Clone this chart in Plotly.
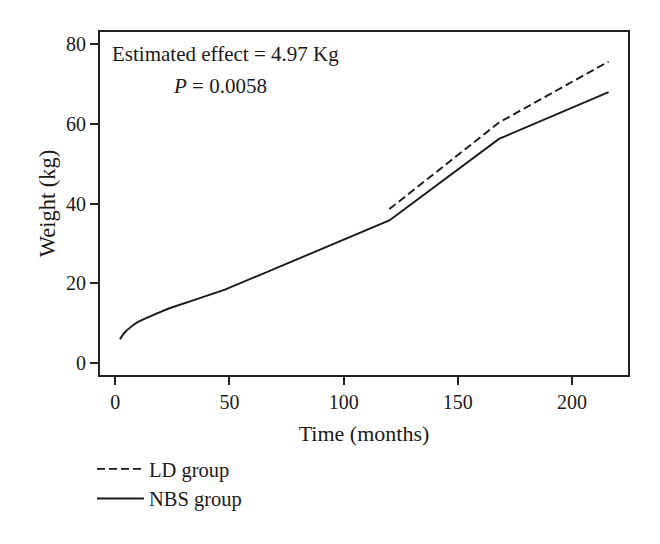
import plotly.graph_objects as go

# Data
nbs_months = [2, 3, 4, 5, 6, 8, 10, 12, 18, 24, 36, 48, 120, 168, 216]
nbs_weight = [6.0, 6.9, 7.6, 8.2, 8.7, 9.6, 10.3, 10.9, 12.4, 13.8, 16.1, 18.4, 35.75, 56.2, 67.9]
ld_months = [120, 168, 216]
ld_weight = [38.6, 60.3, 75.6]

x_ticks = [0, 50, 100, 150, 200]
y_ticks = [0, 20, 40, 60, 80]

FONT = "Liberation Serif"
INK = "#1a1a1a"

fig = go.Figure()
fig.add_trace(go.Scatter(x=ld_months, y=ld_weight, mode="lines", name="LD group",
                         line=dict(color=INK, width=1.9, dash="8px,4px")))
fig.add_trace(go.Scatter(x=nbs_months, y=nbs_weight, mode="lines", name="NBS group",
                         line=dict(color=INK, width=1.9)))

axis_common = dict(showgrid=False, zeroline=False, showline=True, mirror=True,
                   linecolor="#222", linewidth=2, ticks="outside", ticklen=8,
                   tickwidth=1.5, tickcolor="#222",
                   tickfont=dict(family=FONT, size=20, color=INK))

fig.update_xaxes(range=[-6.7, 224.5], tickvals=x_ticks,
                 title=dict(text="Time (months)", font=dict(family=FONT, size=22, color=INK), standoff=14),
                 **axis_common)
fig.update_yaxes(range=[-3, 83], tickvals=y_ticks,
                 title=dict(text="Weight (kg)", font=dict(family=FONT, size=22.5, color=INK), standoff=4),
                 **axis_common)

# page has an 8px body offset; layout computed in figure coordinates
W, H = 660, 544
L, R, T, B = 92, 40, 24, 177
pw, ph = W - L - R, H - T - B
OFF = 8

def px(xs):
    return (xs - OFF - L) / pw

def py(ys):
    return (H - B - (ys - OFF)) / ph

fig.add_annotation(x=px(110), y=py(54), xref="paper", yref="paper", xanchor="left", yanchor="middle",
                   text="Estimated effect = 4.97 Kg", showarrow=False,
                   font=dict(family=FONT, size=21, color=INK))
fig.add_annotation(x=px(220), y=py(86), xref="paper", yref="paper", xanchor="center", yanchor="middle",
                   text="<i>P</i> = 0.0058", showarrow=False,
                   font=dict(family=FONT, size=21, color=INK))

fig.update_layout(
    width=W, height=H,
    margin=dict(l=L, r=R, t=T, b=B),
    paper_bgcolor="white", plot_bgcolor="white",
    showlegend=True,
    legend=dict(x=px(92), y=py(449), xanchor="left", yanchor="top",
                font=dict(family=FONT, size=20.5, color=INK),
                bgcolor="rgba(0,0,0,0)", tracegroupgap=0, itemwidth=47),
)

fig.write_html("out.html")
